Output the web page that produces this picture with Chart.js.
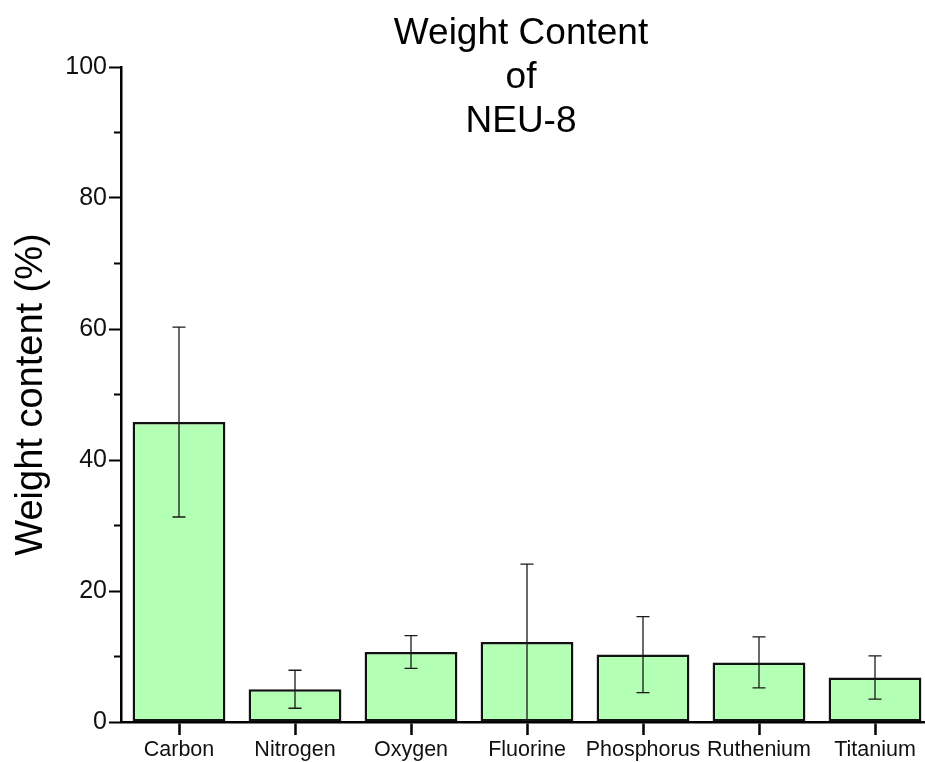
<!DOCTYPE html>
<html>
<head>
<meta charset="utf-8">
<script src="https://cdn.jsdelivr.net/npm/chart.js@4"></script>
<style>
  body { margin: 0; background: #fff; overflow: hidden; }
  #wrap { width: 925px; height: 762px; overflow: hidden; }
</style>
</head>
<body>
<div id="wrap"><canvas id="weight-chart" width="933" height="762"></canvas></div>
<script>
const elements = ['Carbon', 'Nitrogen', 'Oxygen', 'Fluorine', 'Phosphorus', 'Ruthenium', 'Titanium'];
const weightContent = [45.8, 5.0, 10.7, 12.2, 10.3, 9.1, 6.8];
const weightError = [14.5, 2.9, 2.5, 11.9, 5.8, 3.9, 3.3];
const yTicks = [0, 20, 40, 60, 80, 100];
const yMinorTicks = [10, 30, 50, 70, 90];
const titleLines = ['Weight Content', 'of', 'NEU-8'];

const FONT = "'Liberation Sans', Arial, sans-serif";

// error bars drawn on top of the bars
const errorBars = {
  id: 'errorBars',
  afterDatasetsDraw(chart) {
    let ctx = chart.ctx;
    let x = chart.scales.x, y = chart.scales.y;
    ctx.save();
    ctx.strokeStyle = '#1a1a1a';
    ctx.lineWidth = 1.3;
    weightContent.forEach((v, i) => {
      let px = x.getPixelForValue(i);
      let top = y.getPixelForValue(v + weightError[i]);
      let bot = y.getPixelForValue(v - weightError[i]);
      ctx.beginPath();
      ctx.moveTo(px, top); ctx.lineTo(px, bot);
      ctx.moveTo(px - 6.5, top); ctx.lineTo(px + 6.5, top);
      ctx.moveTo(px - 6.5, bot); ctx.lineTo(px + 6.5, bot);
      ctx.stroke();
    });
    ctx.restore();
  }
};

// short minor ticks on the y axis
const minorTicks = {
  id: 'minorTicks',
  afterDraw(chart) {
    let ctx = chart.ctx;
    let y = chart.scales.y;
    let left = chart.chartArea.left;
    ctx.save();
    ctx.strokeStyle = '#000';
    ctx.lineWidth = 2;
    yMinorTicks.forEach(v => {
      let py = y.getPixelForValue(v);
      ctx.beginPath();
      ctx.moveTo(left - 7, py); ctx.lineTo(left, py);
      ctx.stroke();
    });
    ctx.restore();
  }
};

// title sits inside the plot area
const innerTitle = {
  id: 'innerTitle',
  afterDraw(chart) {
    let ctx = chart.ctx;
    ctx.save();
    ctx.fillStyle = '#000';
    ctx.font = '37px ' + FONT;
    ctx.textAlign = 'center';
    ctx.textBaseline = 'middle';
    titleLines.forEach((t, i) => ctx.fillText(t, 521, 34 + i * 44));
    ctx.restore();
  }
};

new Chart(document.getElementById('weight-chart'), {
  type: 'bar',
  data: {
    labels: elements,
    datasets: [{
      label: 'Weight content',
      data: weightContent,
      backgroundColor: '#b3ffb3',
      borderColor: '#111',
      borderWidth: 2.5,
      borderSkipped: false,
      barPercentage: 0.8,
      categoryPercentage: 1.0
    }]
  },
  options: {
    responsive: false,
    animation: false,
    layout: { padding: { top: 67, left: 0, right: 0, bottom: 0 } },
    plugins: {
      legend: { display: false },
      tooltip: { enabled: false }
    },
    scales: {
      x: {
        afterFit: (scale) => { scale.height = 40; },
        border: { display: true, color: '#000', width: 2.5 },
        grid: {
          display: true,
          offset: false,
          drawOnChartArea: false,
          drawTicks: true,
          tickLength: 13,
          tickWidth: 2.5,
          tickColor: '#000'
        },
        ticks: {
          color: '#111',
          padding: 2,
          autoSkip: false,
          maxRotation: 0,
          font: { size: 21.5, family: FONT }
        }
      },
      y: {
        min: 0,
        max: 100,
        afterFit: (scale) => { scale.width = 121; },
        afterBuildTicks: (scale) => { scale.ticks = yTicks.map(v => ({ value: v })); },
        border: { display: true, color: '#000', width: 2.5 },
        grid: {
          display: true,
          drawOnChartArea: false,
          drawTicks: true,
          tickLength: 12,
          tickWidth: 2,
          tickColor: '#000'
        },
        ticks: {
          color: '#111',
          padding: 2,
          font: { size: 25, family: FONT }
        },
        title: {
          display: true,
          text: 'Weight content (%)',
          color: '#000',
          padding: { top: 9, bottom: 0 },
          font: { size: 38, family: FONT }
        }
      }
    }
  },
  plugins: [errorBars, minorTicks, innerTitle]
});
</script>
</body>
</html>
